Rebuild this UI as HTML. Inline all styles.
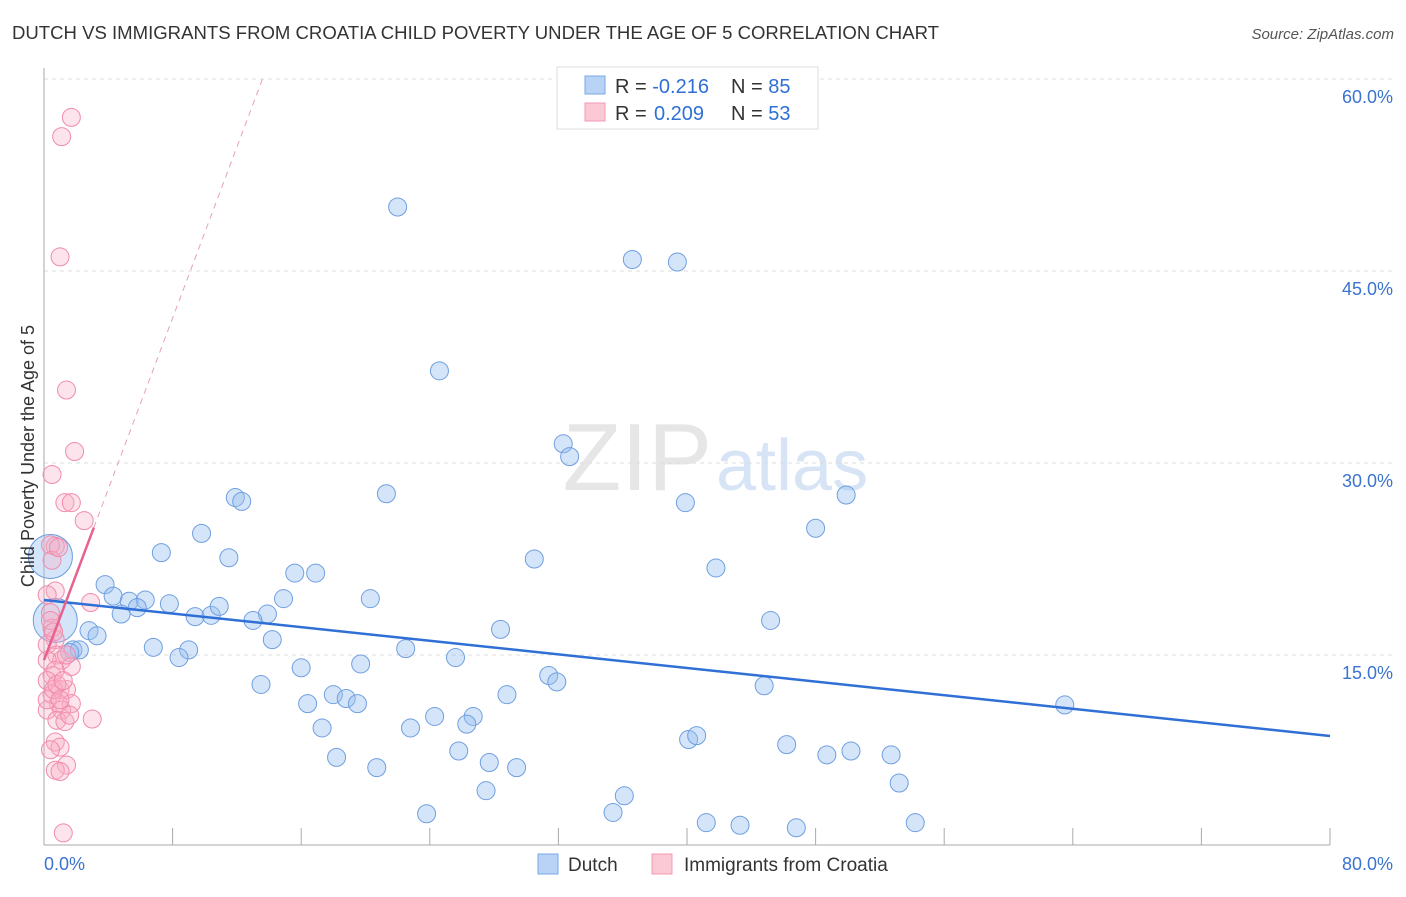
<!DOCTYPE html>
<html><head><meta charset="utf-8"><style>
body{margin:0;background:#fff;font-family:"Liberation Sans",sans-serif;}
svg text{font-family:"Liberation Sans",sans-serif;}
</style></head><body>
<svg id="chart" width="1406" height="892" xmlns="http://www.w3.org/2000/svg">
<text x="12" y="39" font-size="18" fill="#333" textLength="927" lengthAdjust="spacingAndGlyphs">DUTCH VS IMMIGRANTS FROM CROATIA CHILD POVERTY UNDER THE AGE OF 5 CORRELATION CHART</text>
<text x="1394" y="39" font-size="15" fill="#555" text-anchor="end" font-style="italic">Source: ZipAtlas.com</text>
<text x="712" y="490" font-size="96" fill="#e6e6e6" text-anchor="end" font-family="Liberation Serif">ZIP</text>
<text x="716" y="490" font-size="72" fill="#d6e4f5">atlas</text>
<g id="grid"></g>
<g id="axes"></g>
<g id="pts"></g>
<g id="lines"></g>
<text transform="translate(34,456) rotate(-90)" font-size="18" fill="#333" text-anchor="middle">Child Poverty Under the Age of 5</text>
<g>
<rect x="557" y="67" width="261" height="62" fill="#fff" stroke="#ddd"/>
<rect x="585" y="76" width="20" height="18" fill="#b8d3f5" stroke="#7aa8e6"/>
<rect x="585" y="103" width="20" height="18" fill="#fbc8d6" stroke="#f09ab4"/>
<text x="615" y="93" font-size="20" fill="#333">R = <tspan fill="#2f6fd6">-0.216</tspan><tspan x="731">N = </tspan><tspan fill="#2f6fd6">85</tspan></text>
<text x="615" y="120" font-size="20" fill="#333">R = <tspan fill="#2f6fd6" x="654">0.209</tspan><tspan x="731">N = </tspan><tspan fill="#2f6fd6">53</tspan></text>
</g>
<g>
<rect x="538" y="854" width="20" height="20" fill="#b8d3f5" stroke="#7aa8e6"/>
<text x="568" y="871" font-size="19" fill="#333">Dutch</text>
<rect x="652" y="854" width="20" height="20" fill="#fbc8d6" stroke="#f09ab4"/>
<text x="684" y="871" font-size="19" fill="#333">Immigrants from Croatia</text>
</g>
</svg>
<script>
const yTicks=[15,30,45,60];
const yTickLabels=["15.0%","30.0%","45.0%","60.0%"];
const xEndLabels=["0.0%","80.0%"];
const dutchX=[22.0,36.6,39.4,24.6,32.3,32.7,11.9,12.3,21.3,39.9,49.9,9.8,7.3,11.5,48.0,30.5,41.8,15.6,16.9,3.8,4.3,5.3,6.3,5.8,4.8,7.8,9.4,10.4,10.9,13.9,14.9,13.0,20.3,45.2,2.8,3.3,28.4,14.2,6.8,9.0,8.4,22.5,25.6,16.0,19.7,31.4,31.9,13.5,44.8,18.0,18.8,19.5,16.4,28.8,26.7,24.3,26.3,22.8,17.3,63.5,40.1,40.6,46.2,25.8,50.2,48.7,52.7,18.2,27.7,29.4,20.7,53.2,27.5,36.1,35.4,23.8,41.2,43.3,46.8,54.2,1.8,2.2,1.6,0.4,0.7];
const dutchY=[50.0,45.9,45.7,37.2,31.5,30.5,27.3,27.0,27.6,26.9,27.5,24.5,23.0,22.6,24.9,22.5,21.8,21.4,21.4,20.5,19.6,19.2,19.3,18.7,18.2,19.0,18.0,18.1,18.8,18.2,19.4,17.7,19.4,17.7,16.9,16.5,17.0,16.2,15.6,15.4,14.8,15.5,14.8,14.0,14.3,13.4,12.9,12.7,12.6,11.9,11.6,11.2,11.2,11.9,10.2,10.2,9.6,9.3,9.3,11.1,8.4,8.7,8.0,7.5,7.5,7.2,7.2,7.0,6.6,6.2,6.2,5.0,4.4,4.0,2.7,2.6,1.9,1.7,1.5,1.9,15.4,15.4,15.2,22.7,17.7];
const dutchSize=[9,9,9,9,9,9,9,9,9,9,9,9,9,9,9,9,9,9,9,9,9,9,9,9,9,9,9,9,9,9,9,9,9,9,9,9,9,9,9,9,9,9,9,9,9,9,9,9,9,9,9,9,9,9,9,9,9,9,9,9,9,9,9,9,9,9,9,9,9,9,9,9,9,9,9,9,9,9,9,9,9,9,9,22,22];
const croX=[1.7,1.1,1.0,1.4,1.9,0.5,1.3,1.7,2.5,0.7,0.4,2.9,0.7,0.2,0.4,0.5,0.7,0.2,0.8,1.1,1.7,0.2,0.5,0.7,0.2,1.0,1.4,0.5,1.7,0.9,0.2,1.1,0.8,1.3,3.0,0.7,1.0,1.4,0.7,1.0,1.2,0.5,0.9,0.4,0.6,1.4,0.2,0.6,0.8,1.6,1.0,1.2,0.4];
const croY=[57.0,55.5,46.1,35.7,30.9,29.1,26.9,26.9,25.5,23.5,23.6,19.1,20.0,19.7,18.3,17.1,16.2,15.8,15.0,14.6,14.1,14.6,13.4,13.8,13.0,12.3,12.3,11.9,11.2,11.2,10.7,10.7,9.9,9.8,10.0,8.2,7.8,6.4,6.0,5.9,1.1,22.4,23.4,17.7,16.8,15.0,11.5,12.3,12.7,10.3,11.5,13.0,7.6];
const dutchTrend=[19.3,8.67];
const croTrend=[14.6,3.34];
const NS="http://www.w3.org/2000/svg";
const xs=v=>44+v/80*1286, ys=v=>847-v/15*192;
function mk(p,t,a){const e=document.createElementNS(NS,t);for(const k in a)e.setAttribute(k,a[k]);p.appendChild(e);return e;}
const grid=document.getElementById('grid'),axes=document.getElementById('axes'),pts=document.getElementById('pts'),lines=document.getElementById('lines');
yTicks.forEach((t,i)=>{
 const l=mk(grid,'line',{x1:44,x2:1392,y1:ys(t),y2:ys(t),stroke:'#ddd','stroke-dasharray':'4,4'});
 
 
 const tx=mk(axes,'text',{x:1393,y:ys(t)+24,'font-size':18,fill:'#3b73d1','text-anchor':'end'});
 tx.textContent=yTickLabels[i];
 
 
});
mk(axes,'line',{x1:44,x2:44,y1:68,y2:845,stroke:'#aaa'});
mk(axes,'line',{x1:44,x2:1330,y1:845,y2:845,stroke:'#aaa'});
for(let i=0;i<=10;i++){const x=xs(i*8);const tk=mk(axes,'line',{x1:x,x2:x,y1:828,y2:845,stroke:'#aaa'});
 
 }
const x0=mk(axes,'text',{x:44,y:870,'font-size':18,fill:'#3b73d1'});x0.textContent=xEndLabels[0];


const x1=mk(axes,'text',{x:1393,y:870,'font-size':18,fill:'#3b73d1','text-anchor':'end'});x1.textContent=xEndLabels[1];


dutchX.forEach((v,i)=>{const c=mk(pts,'circle',{cx:xs(v),cy:ys(dutchY[i]),r:dutchSize[i],fill:'rgba(150,190,240,0.4)',stroke:'#6f9fe0','stroke-width':1});
 
 });
croX.forEach((v,i)=>{const c=mk(pts,'circle',{cx:xs(v),cy:ys(croY[i]),r:9,fill:'rgba(248,175,198,0.35)',stroke:'#f08cac','stroke-width':1});
 
 });
const bl=mk(lines,'line',{x1:xs(0),y1:ys(dutchTrend[0]),x2:xs(80),y2:ys(dutchTrend[1]),stroke:'#2f6fd6','stroke-width':2.5});


const pe=3.1, pd=(60-croTrend[0])/croTrend[1];
const pl=mk(lines,'line',{x1:xs(0),y1:ys(croTrend[0]),x2:xs(pe),y2:ys(croTrend[0]+croTrend[1]*pe),stroke:'#e8628d','stroke-width':2.5});


const pdl=mk(lines,'line',{x1:xs(pe),y1:ys(croTrend[0]+croTrend[1]*pe),x2:xs(pd),y2:ys(60),stroke:'#e8a0b8','stroke-width':1,'stroke-dasharray':'6,5'});


</script>
</body></html>
